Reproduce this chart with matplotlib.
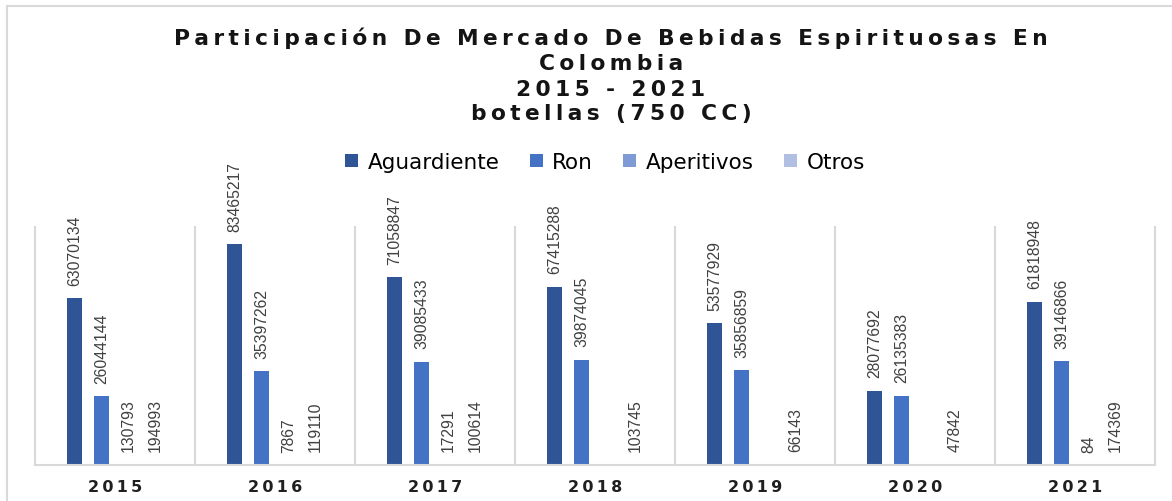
import numpy as np
import matplotlib
matplotlib.use("Agg")
import matplotlib.pyplot as plt
from matplotlib import font_manager
from matplotlib.patches import Patch
from matplotlib.lines import Line2D

# botellas de 750 cc por categoria y año
years = ["2015", "2016", "2017", "2018", "2019", "2020", "2021"]
series_names = ["Aguardiente", "Ron", "Aperitivos", "Otros"]
aguardiente = [63070134, 83465217, 71058847, 67415288, 53577929, 28077692, 61818948]
ron = [26044144, 35397262, 39085433, 39874045, 35856859, 26135383, 39146866]
aperitivos = [130793, 7867, 17291, np.nan, np.nan, np.nan, 84]
otros = [194993, 119110, 100614, 103745, 66143, 47842, 174369]

title_lines = ["Participación De Mercado De Bebidas Espirituosas En",
               "Colombia", "2015 - 2021", "botellas (750 CC)"]

colors = ["#2F5597", "#4472C4", "#7E9BD6", "#B1BFE2"]
grid_col = "#D9D9D9"

W, H = 1172, 502
fig = plt.figure(figsize=(W / 100, H / 100), dpi=100)

# the labels look like Arial Narrow; use the narrow Liberation face if it's there
installed = {f.name for f in font_manager.fontManager.ttflist}
if "Liberation Sans Narrow" in installed:
    lab_font, lab_size = "Liberation Sans Narrow", 13.4
else:
    lab_font, lab_size = "Liberation Sans", 11.3


def spaced(s, gap="\u2009"):
    # poor man's letter spacing
    return gap.join(s)


# outer chart border (only top/left visible)
fig.add_artist(Line2D([7 / W, 1], [1 - 7 / H, 1 - 7 / H], color=grid_col, lw=1.5))
fig.add_artist(Line2D([7 / W, 7 / W], [0, 1 - 7 / H], color=grid_col, lw=1.5))

ax = fig.add_axes([35 / W, 36 / H, 1120 / W, 238 / H])
x = np.arange(len(years))
width = 0.094
offsets = [-0.253, -0.084, 0.084, 0.253]
data = [aguardiente, ron, aperitivos, otros]

for vals, off, col in zip(data, offsets, colors):
    vals = np.array(vals, dtype=float)
    ax.bar(x + off, np.nan_to_num(vals), width, color=col)
    for xi, v in zip(x + off, vals):
        if np.isnan(v):
            continue
        ax.annotate(f"{int(v)}", (xi, v), xytext=(0, 9.7), textcoords="offset points",
                    rotation=90, ha="center", va="bottom", fontsize=lab_size,
                    family=lab_font, color="#404040")

ax.set_xlim(-0.5, len(years) - 0.5)
ax.set_ylim(0, 90e6)
for xv in np.arange(-0.5, len(years), 1):
    ax.axvline(xv, color=grid_col, lw=1.5, clip_on=False, zorder=0)

for s in ["top", "right", "left"]:
    ax.spines[s].set_visible(False)
ax.spines["bottom"].set_color(grid_col)
ax.spines["bottom"].set_linewidth(1.5)
ax.set_yticks([])
ax.set_xticks(x)
ax.set_xticklabels([spaced(y) for y in years], fontsize=11.5,
                   fontweight="bold", family="DejaVu Sans", color="#1f1f1f")
ax.tick_params(axis="x", length=0, pad=10)

# title, one line at a time (baselines in px from top)
for line, base in zip(title_lines, [45, 70, 96, 120]):
    fig.text(611 / W, 1 - base / H, spaced(line), ha="center", va="baseline",
             fontsize=15.7, fontweight="bold", family="DejaVu Sans", color="#141414")

handles = [Patch(facecolor=c) for c in colors]
fig.legend(handles, series_names, loc="center", bbox_to_anchor=(605 / W, 1 - 163 / H),
           ncol=4, frameon=False, prop={"family": "DejaVu Sans", "size": 15.5},
           handlelength=0.6, handleheight=0.6, handletextpad=0.45, columnspacing=1.4)

fig.savefig("out.png", dpi=100)
